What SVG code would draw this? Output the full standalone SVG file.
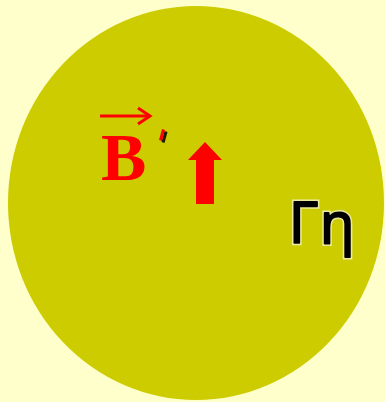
<svg xmlns="http://www.w3.org/2000/svg" width="385" height="402" viewBox="0 0 385 402">
<style>
.red{fill:#FF0000}
.bt{font-family:"Liberation Serif",serif;font-weight:bold;font-size:68px;fill:#FF0000}
.gt{font-family:"Open Sans","DejaVu Sans",sans-serif;font-size:56px;letter-spacing:2px}
.gw{fill:#fff;stroke:#fff;stroke-width:5px;opacity:0.6}
.gb{fill:#000;stroke:#000;stroke-width:2px;stroke-linejoin:round}
</style>
<rect width="385" height="402" fill="#FFFFCC"/>
<g id="disc"><ellipse cx="196" cy="203" rx="188" ry="197" fill="#CCCC00"/></g>
<g id="label-b">
<text class="bt" x="101" y="180">B</text>
<line x1="100" y1="116" x2="148" y2="116" stroke="#FF0000" stroke-width="3"/>
<path d="M138 108 L150 116 L138 124" fill="none" stroke="#FF0000" stroke-width="3"/>
<path d="M160 141 L163 130 L166 131 L163 142 Z" fill="#1a1a00" transform="translate(1.5,1)"/>
<path d="M159 140 L162 129 L165 130 L162 141 Z" class="red"/>
</g>
<g id="arrow"><path class="red" d="M196 204 L214 204 L214 160 L222 160 L205 142 L188 160 L196 160 Z"/></g>
<g id="label-g">
<text class="gt gw" x="289" y="243">Γη</text>
<text class="gt gb" x="289" y="243">Γη</text>
</g>
</svg>
